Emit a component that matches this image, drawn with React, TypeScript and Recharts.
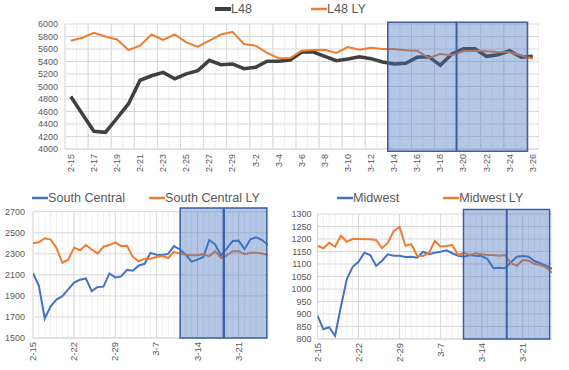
import React from 'react';
import { LineChart, Line, XAxis, YAxis, CartesianGrid, ReferenceArea, Legend } from 'recharts';

// Daily demand panels: L48 (top), South Central and Midwest (bottom)

const FONT = '"Liberation Sans", Arial, sans-serif';
const TEXT = '#595959';
const GRID = '#D9D9D9';
const GRID_MINOR = '#EFEFEF';
const ORANGE = '#ED7D31';
const BLUE = '#4472C4';
const DARK = '#404040';

const dates = [
  '2-15', '2-16', '2-17', '2-18', '2-19', '2-20', '2-21', '2-22', '2-23', '2-24', '2-25', '2-26', '2-27', '2-28', '2-29',
  '3-1', '3-2', '3-3', '3-4', '3-5', '3-6', '3-7', '3-8', '3-9', '3-10', '3-11', '3-12', '3-13', '3-14', '3-15', '3-16',
  '3-17', '3-18', '3-19', '3-20', '3-21', '3-22', '3-23', '3-24', '3-25', '3-26',
];

const l48 = [
  4840, 4560, 4283, 4267, 4492, 4725, 5100, 5172, 5225, 5122, 5203, 5255, 5418, 5348, 5360, 5285, 5307, 5403, 5403, 5424,
  5552, 5552, 5483, 5413, 5440, 5477, 5445, 5392, 5360, 5371, 5467, 5477, 5339, 5520, 5605, 5605, 5483, 5509, 5573, 5467, 5483,
];
const l48Ly = [
  5733, 5781, 5858, 5800, 5752, 5584, 5653, 5832, 5744, 5832, 5706, 5637, 5733, 5832, 5875, 5680, 5653, 5538, 5453, 5455,
  5573, 5584, 5589, 5536, 5632, 5589, 5621, 5600, 5600, 5579, 5573, 5456, 5520, 5499, 5563, 5573, 5563, 5552, 5547, 5499, 5445,
];

const southCentral = [
  2115, 1995, 1685, 1801, 1865, 1898, 1962, 2027, 2053, 2066, 1945, 1985, 1988, 2114, 2076, 2085, 2147, 2140, 2189, 2205,
  2309, 2292, 2289, 2299, 2373, 2341, 2292, 2225, 2244, 2270, 2431, 2389, 2286, 2351, 2422, 2425, 2344, 2438, 2457, 2431, 2383,
];
const southCentralLy = [
  2399, 2409, 2448, 2435, 2357, 2215, 2244, 2360, 2334, 2383, 2341, 2302, 2367, 2383, 2409, 2373, 2377, 2270, 2228, 2254,
  2254, 2270, 2279, 2260, 2318, 2302, 2292, 2286, 2286, 2296, 2276, 2325, 2260, 2286, 2325, 2325, 2296, 2309, 2309, 2302, 2286,
];

const midwest = [
  893, 839, 847, 813, 930, 1040, 1089, 1109, 1145, 1136, 1092, 1113, 1139, 1133, 1133, 1128, 1129, 1125, 1149, 1139,
  1145, 1149, 1155, 1143, 1133, 1129, 1136, 1133, 1132, 1120, 1083, 1085, 1083, 1107, 1129, 1132, 1129, 1112, 1103, 1093, 1080,
];
const midwestLy = [
  1173, 1163, 1185, 1169, 1213, 1189, 1200, 1200, 1199, 1199, 1196, 1163, 1185, 1232, 1248, 1173, 1179, 1133, 1132, 1143,
  1192, 1170, 1172, 1176, 1136, 1145, 1136, 1143, 1139, 1136, 1136, 1133, 1136, 1103, 1093, 1116, 1113, 1100, 1096, 1087, 1065,
];

const l48YTicks = [4000, 4200, 4400, 4600, 4800, 5000, 5200, 5400, 5600, 5800, 6000];
const scYTicks = [1500, 1700, 1900, 2100, 2300, 2500, 2700];
const mwYTicks = [800, 850, 900, 950, 1000, 1050, 1100, 1150, 1200, 1250, 1300];

// label positions (day index into dates)
const l48XTicks = [0, 2, 4, 6, 8, 10, 12, 14, 16, 18, 20, 22, 24, 26, 28, 30, 32, 34, 36, 38, 40];
const weeklyXTicks = [0, 7, 14, 21, 28, 35];

// highlighted windows drawn over the charts, in day index units
const l48Windows = [[27.45, 33.4], [33.4, 39.55]];
const scWindows = [[25.05, 32.4], [32.55, 39.8]];
const mwWindows = [[24.9, 32.25], [32.3, 39.6]];

const l48Series = [
  { key: 'l48', name: 'L48', color: DARK, width: 3.5, legendWidth: 4 },
  { key: 'l48Ly', name: 'L48 LY', color: ORANGE, width: 2, legendWidth: 2.5 },
];
const scSeries = [
  { key: 'sc', name: 'South Central', color: BLUE, width: 2, legendWidth: 2.5 },
  { key: 'scLy', name: 'South Central LY', color: ORANGE, width: 2, legendWidth: 2.5 },
];
const mwSeries = [
  { key: 'mw', name: 'Midwest', color: BLUE, width: 2, legendWidth: 2.5 },
  { key: 'mwLy', name: 'Midwest LY', color: ORANGE, width: 2, legendWidth: 2.5 },
];

const l48Rows = dates.map((date, i) => ({ i, date, l48: l48[i], l48Ly: l48Ly[i] }));
const scRows = dates.map((date, i) => ({ i, date, sc: southCentral[i], scLy: southCentralLy[i] }));
const mwRows = dates.map((date, i) => ({ i, date, mw: midwest[i], mwLy: midwestLy[i] }));

// gridline positions
const l48Minor = dates.map((_, i) => i - 0.5).concat([dates.length - 0.5]);
const l48Major = l48XTicks.map((i) => i - 0.5);
const dailyMinor = dates.map((_, i) => i);

function XTick(props: any) {
  const { x, y, payload, labels, fontSize } = props;
  return (
    <text
      x={x}
      y={y}
      dy={3}
      textAnchor="end"
      fontSize={fontSize}
      fontFamily={FONT}
      fill={TEXT}
      transform={`rotate(-90 ${x} ${y})`}
    >
      {labels[payload.value]}
    </text>
  );
}

function LegendRow({ series, gap }: any) {
  return (
    <div style={{ display: 'flex', alignItems: 'center', fontFamily: FONT, fontSize: 12.6, color: TEXT, whiteSpace: 'nowrap' }}>
      {series.map((s: any, k: number) => (
        <div key={s.key} style={{ display: 'flex', alignItems: 'center', marginRight: k < series.length - 1 ? gap : 0 }}>
          <svg width={16} height={10}>
            <line x1={0} y1={5} x2={16} y2={5} stroke={s.color} strokeWidth={s.legendWidth} />
          </svg>
          <span>{s.name}</span>
        </div>
      ))}
    </div>
  );
}

// map domain values onto the plot area the chart hands to the generator
const gridAt = (vals: number[], domain: number[]) => (props: any) => {
  const off = props && props.offset;
  if (!off) return [];
  return vals.map((v) => off.left + ((v - domain[0]) / (domain[1] - domain[0])) * off.width);
};

function Panel(p: any) {
  return (
    <div style={{ position: 'absolute', left: p.left, top: p.top, width: p.width, height: p.height }}>
      <LineChart width={p.width} height={p.height} data={p.rows} margin={p.margin}>
        <CartesianGrid horizontal={false} stroke={GRID_MINOR} verticalCoordinatesGenerator={gridAt(p.minorX, p.xDomain)} />
        <CartesianGrid horizontal={false} stroke={GRID} verticalCoordinatesGenerator={gridAt(p.majorX, p.xDomain)} />
        <CartesianGrid vertical={false} stroke={GRID} />
        <XAxis
          dataKey="i"
          type="number"
          domain={p.xDomain}
          ticks={p.xTicks}
          interval={0}
          allowDataOverflow
          tickLine={false}
          tickSize={0}
          tickMargin={p.xMargin}
          height={p.xHeight}
          axisLine={{ stroke: GRID }}
          tick={<XTick labels={dates} fontSize={p.xFont} />}
        />
        <YAxis
          type="number"
          domain={p.yDomain}
          ticks={p.yTicks}
          interval={0}
          width={p.yWidth}
          tickLine={false}
          tickSize={0}
          tickMargin={p.yMargin}
          axisLine={false}
          tick={{ fontSize: 9, fill: TEXT, fontFamily: FONT }}
        />
        {p.series.map((s: any) => (
          <Line
            key={s.key}
            type="linear"
            dataKey={s.key}
            name={s.name}
            stroke={s.color}
            strokeWidth={s.width}
            dot={false}
            activeDot={false}
            isAnimationActive={false}
          />
        ))}
        {p.windows.map((w: number[], k: number) => (
          <ReferenceArea
            key={k}
            x1={w[0]}
            x2={w[1]}
            y1={p.windowY[0]}
            y2={p.windowY[1]}
            ifOverflow="visible"
            fill={BLUE}
            fillOpacity={0.4}
            stroke="#3F5F9F"
            strokeWidth={1.5}
            zIndex={1500}
          />
        ))}
        <Legend
          verticalAlign="middle"
          align="center"
          wrapperStyle={{ top: p.legendTop, left: p.legendLeft, width: 'auto' }}
          content={() => <LegendRow series={p.series} gap={p.legendGap} />}
        />
      </LineChart>
    </div>
  );
}

export default function App() {
  return (
    <div style={{ position: 'absolute', left: 0, top: 0, width: 569, height: 370, background: '#fff', overflow: 'hidden' }}>
      <Panel
        left={0}
        top={0}
        width={569}
        height={185}
        margin={{ top: 24, right: 30.5, bottom: 0, left: 5 }}
        yWidth={60}
        yMargin={7}
        xHeight={36}
        xMargin={5}
        xFont={9}
        rows={l48Rows}
        series={l48Series}
        xDomain={[-0.5, 40.5]}
        xTicks={l48XTicks}
        minorX={l48Minor}
        majorX={l48Major}
        yDomain={[4000, 6000]}
        yTicks={l48YTicks}
        windows={l48Windows}
        windowY={[3963, 6027]}
        legendTop={1.5}
        legendLeft={215}
        legendGap={59}
      />
      <Panel
        left={0}
        top={185}
        width={285}
        height={185}
        margin={{ top: 26.7, right: 17, bottom: 0, left: 3 }}
        yWidth={30}
        yMargin={8}
        xHeight={32}
        xMargin={4}
        xFont={9.5}
        rows={scRows}
        series={scSeries}
        xDomain={[0, 40]}
        xTicks={weeklyXTicks}
        minorX={dailyMinor}
        majorX={weeklyXTicks}
        yDomain={[1500, 2700]}
        yTicks={scYTicks}
        windows={scWindows}
        windowY={[1500, 2735]}
        legendTop={5.5}
        legendLeft={32}
        legendGap={24}
      />
      <Panel
        left={285}
        top={185}
        width={284}
        height={185}
        margin={{ top: 29, right: 17, bottom: 0, left: 2.5 }}
        yWidth={30}
        yMargin={6}
        xHeight={31}
        xMargin={4}
        xFont={9.5}
        rows={mwRows}
        series={mwSeries}
        xDomain={[0, 40]}
        xTicks={weeklyXTicks}
        minorX={dailyMinor}
        majorX={weeklyXTicks}
        yDomain={[800, 1300]}
        yTicks={mwYTicks}
        windows={mwWindows}
        windowY={[800, 1318]}
        legendTop={5.5}
        legendLeft={52}
        legendGap={44}
      />
    </div>
  );
}
